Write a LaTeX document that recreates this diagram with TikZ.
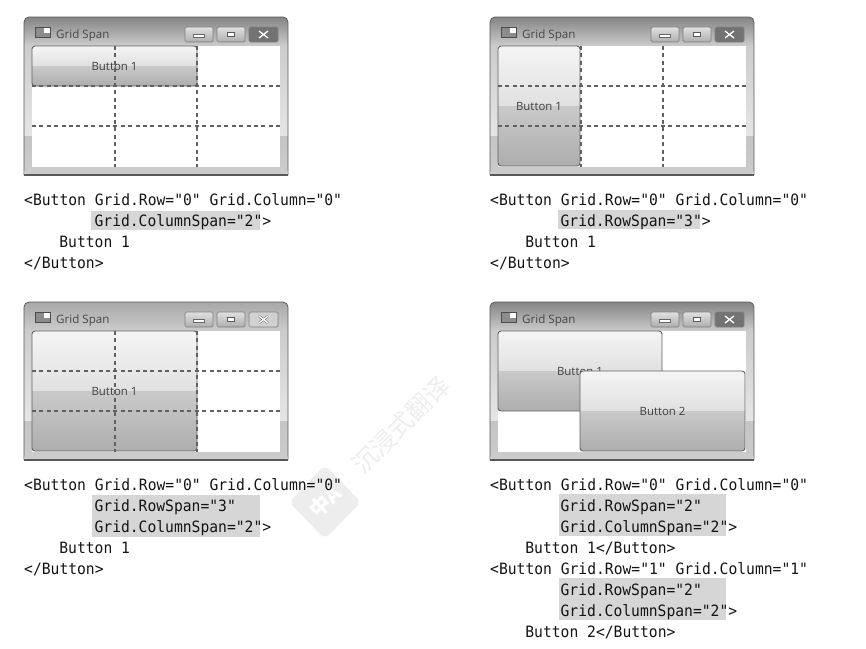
\documentclass[tikz,border=0pt]{standalone}
\usepackage{fontspec}
\setmainfont{Open Sans}
\newfontfamily\codefont[FakeStretch=0.94]{DejaVu Sans Mono}
\newfontfamily\cjkfont{Noto Sans CJK SC}
\usetikzlibrary{positioning,calc}
\definecolor{codebar}{HTML}{D6D6D6}
\definecolor{wmgray}{HTML}{EDEDED}
\tikzstyle{code} = [inner sep=0pt,anchor=base west,text=black!92,font=\codefont\fontsize{15.6}{18}\selectfont]
\tikzstyle{bar} = [fill=codebar,draw=none]
\tikzstyle{title} = [inner sep=0pt,text=black!72,font=\fontsize{11.6}{13}\selectfont]
\tikzstyle{label} = [inner sep=0pt,text=black!75,font=\fontsize{11.4}{13}\selectfont]
\tikzstyle{rule} = [draw=black!62,line width=1.3pt,dash pattern=on 4pt off 3.4pt]
\tikzstyle{capbox} = [draw=black!50,rounded corners=1.5pt,line width=0.7pt]
\newcommand{\appwindow}[5]{%
    \begin{scope}[shift={(#2,#3)}]
        \begin{scope}
            \clip[rounded corners=5pt] (24,175) -- (24,17) -- (288,17) -- (288,175) -- cycle;
            \shade[top color=#4,bottom color=black!20] (24,17) rectangle (288,46);
            \shade[top color=black!20,bottom color=black!10] (24,46) rectangle (288,136);
            \shade[top color=black!23,bottom color=black!20] (24,136) rectangle (288,175);
        \end{scope}
        \draw[black!65,line width=0.8pt,rounded corners=5pt] (24,175) -- (24,17) -- (288,17) -- (288,175);
        \draw[black!65,line width=1.2pt] (24,175) -- (288,175);
        \fill[white] (32,46) rectangle (280,167);
        \draw[black!70,fill=black!45,line width=0.5pt] (35,27) rectangle (50,37);
        \fill[white] (44,27.5) rectangle (49.5,33);
        \node[title,anchor=west] (#1title) at (56,35.5) {Grid Span};
        \shade[capbox,top color=black!12,bottom color=black!32] (185,27) rectangle (213,42);
        \shade[capbox,top color=black!12,bottom color=black!32] (217,27) rectangle (245,42);
        \shade[capbox,top color=#5,bottom color=#5] (249,27) rectangle (278,42);
        \draw[black!60,fill=white,line width=0.6pt] (193,34.5) rectangle (204,37);
        \draw[black!65,fill=white,line width=1pt] (227.5,32) rectangle (234.5,36.5);
        \draw[black!55,line width=2.4pt] (259,31) -- (268,38) (259,38) -- (268,31);
        \draw[white,line width=1.3pt] (259,31) -- (268,38) (259,38) -- (268,31);
    \end{scope}
}
\newcommand{\gridbutton}[6]{%
    \begin{scope}
        \clip[rounded corners=3pt] (#2,#3) rectangle (#4,#5);
        \shade[top color=black!4,bottom color=black!12] (#2,#3) rectangle (#4,{(#3+#5)/2});
        \shade[top color=black!21,bottom color=black!32] (#2,{(#3+#5)/2}) rectangle (#4,#5);
    \end{scope}
    \draw[black!62,line width=0.9pt,rounded corners=3pt] (#2,#3) rectangle (#4,#5);
    \node[label] (#1) at ({(#2+#4)/2},{(#3+#5)/2}) {#6};
}
\newcommand{\gridrules}[2]{%
    \begin{scope}[shift={(#1,#2)}]
        \coordinate (top a) at (115,46);
        \coordinate (bot a) at (115,167);
        \coordinate (top b) at (197,46);
        \coordinate (bot b) at (197,167);
        \coordinate (lef a) at (32,86);
        \coordinate (rig a) at (280,86);
        \coordinate (lef b) at (32,126);
        \coordinate (rig b) at (280,126);
        \draw[rule] (top a) -- (bot a);
        \draw[rule] (top b) -- (bot b);
        \draw[rule] (lef a) -- (rig a);
        \draw[rule] (lef b) -- (rig b);
    \end{scope}
}
\begin{document}
\begin{tikzpicture}[x=1pt,y=-1pt]
    \useasboundingbox (0,0) rectangle (866,648);

    \node[rotate=45,inner sep=0pt,text=wmgray,font=\cjkfont\fontsize{25}{25}\selectfont] (wmtext) at (401,425) {沉浸式翻译};
    \fill[wmgray,rounded corners=6pt] (325,465) -- (361,502) -- (325,539) -- (289,502) -- cycle;
    \node[rotate=45,inner sep=0pt,text=white,font=\cjkfont\bfseries\fontsize{21}{21}\selectfont] (wmlogo) at (325,502) {中A};

    \appwindow{a}{0}{0}{black!48}{black!55}
    \gridbutton{a1}{32}{46}{197}{86}{Button 1}
    \gridrules{0}{0}

    \appwindow{b}{466}{0}{black!48}{black!55}
    \gridbutton{b1}{498}{46}{580}{166}{Button 1}
    \gridrules{466}{0}

    \appwindow{c}{0}{285}{black!34}{black!18}
    \gridbutton{c1}{32}{331}{197}{451}{Button 1}
    \gridrules{0}{285}

    \appwindow{d}{466}{285}{black!48}{black!55}
    \gridbutton{d1}{498}{331}{662}{411}{Button 1}
    \gridbutton{d2}{580}{371}{745}{451}{Button 2}

    \fill[bar] (91,211) rectangle (260,230);
    \node[code] (a line1) at (24,205) {<Button Grid.Row="0" Grid.Column="0"};
    \node[code] (a line2) at (94.4,226) {Grid.ColumnSpan="2">};
    \node[code] (a line3) at (59.2,247) {Button 1};
    \node[code] (a line4) at (24,268) {</Button>};

    \fill[bar] (92,495) rectangle (260,537);
    \node[code] (c line1) at (24,490) {<Button Grid.Row="0" Grid.Column="0"};
    \node[code] (c line2) at (94.4,511) {Grid.RowSpan="3"};
    \node[code] (c line3) at (94.4,532) {Grid.ColumnSpan="2">};
    \node[code] (c line4) at (59.2,553) {Button 1};
    \node[code] (c line5) at (24,574) {</Button>};

    \begin{scope}
        \clip (480,180) rectangle (805,648);
        \fill[bar] (558,210) rectangle (700,229);
        \node[code] (b line1) at (490,205) {<Button Grid.Row="0" Grid.Column="0"};
        \node[code] (b line2) at (560.4,226) {Grid.RowSpan="3">};
        \node[code] (b line3) at (525.2,247) {Button 1};
        \node[code] (b line4) at (490,268) {</Button>};

        \fill[bar] (559,494) rectangle (726,536);
        \fill[bar] (559,578) rectangle (726,620);
        \node[code] (d line1) at (490,490) {<Button Grid.Row="0" Grid.Column="0"};
        \node[code] (d line2) at (560.4,511) {Grid.RowSpan="2"};
        \node[code] (d line3) at (560.4,532) {Grid.ColumnSpan="2">};
        \node[code] (d line4) at (525.2,553) {Button 1</Button>};
        \node[code] (d line5) at (490,574) {<Button Grid.Row="1" Grid.Column="1"};
        \node[code] (d line6) at (560.4,595) {Grid.RowSpan="2"};
        \node[code] (d line7) at (560.4,616) {Grid.ColumnSpan="2">};
        \node[code] (d line8) at (525.2,637) {Button 2</Button>};
    \end{scope}
\end{tikzpicture}
\end{document}
